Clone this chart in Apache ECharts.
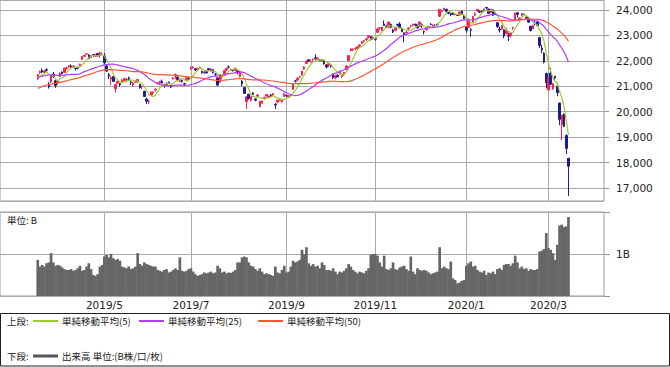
<!DOCTYPE html>
<html><head><meta charset="utf-8">
<script src="https://cdn.jsdelivr.net/npm/echarts@6/dist/echarts.min.js"></script>
<style>html,body{margin:0;padding:0;background:#fff}#c{width:670px;height:367px}</style>
</head><body><div id="c"></div>
<script>
// Trading days (year/month, days)
const months = [
 ['2019/3',[15,18,19,20,22,25,26,27,28,29]],
 ['2019/4',[1,2,3,4,5,8,9,10,11,12,15,16,17,18,19,22,23,24,25,26]],
 ['2019/5',[7,8,9,10,13,14,15,16,17,20,21,22,23,24,27,28,29,30,31]],
 ['2019/6',[3,4,5,6,7,10,11,12,13,14,17,18,19,20,21,24,25,26,27,28]],
 ['2019/7',[1,2,3,4,5,8,9,10,11,12,16,17,18,19,22,23,24,25,26,29,30,31]],
 ['2019/8',[1,2,5,6,7,8,9,13,14,15,16,19,20,21,22,23,26,27,28,29,30]],
 ['2019/9',[2,3,4,5,6,9,10,11,12,13,17,18,19,20,24,25,26,27,30]],
 ['2019/10',[1,2,3,4,7,8,9,10,11,15,16,17,18,21,23,24,25,28,29,30,31]],
 ['2019/11',[1,5,6,7,8,11,12,13,14,15,18,19,20,21,22,25,26,27,28,29]],
 ['2019/12',[2,3,4,5,6,9,10,11,12,13,16,17,18,19,20,23,24,25,26,27,30]],
 ['2020/1',[6,7,8,9,10,14,15,16,17,20,21,22,23,24,27,28,29,30,31]],
 ['2020/2',[3,4,5,6,7,10,12,13,14,17,18,19,20,21,25,26,27,28]],
 ['2020/3',[2,3,4,5,6,9,10,11,12,13]]
];
const tickMonths = ['2019/5','2019/7','2019/9','2019/11','2020/1','2020/3'];

const opens = [
 21300,21540,21620,21540,21650,21090,21170,21480,21220,21150,
 21390,21560,21550,21700,21760,21800,21770,21700,21740,21800,22050,22180,22270,22230,22130,22240,22190,22290,22210,22250,
 22200,21800,21450,21280,21380,20900,21120,21100,21180,21220,21230,21330,21170,21050,21160,21200,21070,20970,20800,
 20500,20400,20640,20740,20860,21100,21130,21190,21040,21070,21160,21040,21290,21400,21350,21200,21230,21100,21220,21320,
 21690,21720,21690,21680,21720,21590,21520,21570,21690,21620,21650,21470,21330,21160,21380,21470,21640,21760,21620,21640,21620,21600,
 21380,21200,20950,20400,20690,20450,20740,20500,20610,20200,20330,20520,20620,20580,20660,20650,20290,20380,20440,20390,20600,
 20640,20560,20650,20880,21210,21250,21380,21440,21680,21900,22040,21950,22040,22120,22050,22030,22000,22010,21840,
 21830,21800,21480,21330,21430,21480,21380,21470,21650,22000,22400,22430,22480,22500,22590,22690,22780,22830,22920,22950,22880,
 22870,23120,23290,23200,23450,23360,23320,23430,23200,23200,23430,23450,23270,23100,23100,23250,23370,23400,23440,23400,
 23360,23420,23150,23220,23330,23440,23390,23400,23440,23750,23930,24000,24030,23900,23860,23880,23820,23790,23800,23960,23780,
 23320,23320,23220,23530,23800,23960,23940,23960,23980,24100,24040,23900,24000,23860,23500,23250,23250,23220,23070,
 23000,22990,23300,23600,23890,23630,23800,23840,23720,23660,23360,23260,23480,23540,22920,22500,22300,21500,
 20850,21520,20900,21400,21000,20340,19480,19900,19060,18170
];
const closes = [
 21450,21584,21566,21609,21627,20977,21428,21378,21033,21206,
 21509,21505,21713,21724,21807,21762,21802,21688,21711,21871,22169,22221,22278,22090,22200,22218,22260,22200,22307,22259,
 21923,21602,21402,21345,21191,21067,21189,21062,21250,21302,21272,21283,21151,21117,21183,21261,20943,21003,20601,
 20410,20409,20776,20774,20885,21134,21205,21129,21032,21117,21124,20972,21333,21462,21259,21286,21194,21087,21338,21276,
 21730,21754,21638,21702,21746,21534,21565,21533,21643,21686,21535,21469,21046,21467,21417,21620,21710,21757,21658,21617,21709,21522,
 21540,21088,20720,20586,20517,20593,20685,20455,20655,20406,20419,20563,20678,20618,20628,20711,20261,20456,20480,20461,20704,
 20620,20625,20649,21086,21200,21318,21392,21598,21760,21988,22001,21960,22045,22079,22098,22020,22049,21879,21756,
 21886,21779,21342,21410,21375,21588,21456,21552,21799,22208,22473,22452,22493,22549,22625,22751,22800,22867,22974,22844,22927,
 22851,23252,23303,23330,23392,23332,23520,23320,23141,23303,23417,23293,23149,23038,23113,23293,23374,23438,23409,23294,
 23529,23380,23135,23300,23354,23430,23410,23392,23425,24024,23952,24066,23935,23865,23816,23821,23831,23783,23925,23838,23657,
 23205,23576,23205,23740,23851,24025,23917,23933,24041,24083,23865,24031,23795,23828,23344,23216,23380,22977,23205,
 22972,23085,23320,23874,23828,23686,23861,23828,23688,23523,23194,23400,23479,23387,22606,22427,21949,21143,
 21345,21083,21100,21330,20750,19699,19867,19416,18560,17858
];
const lows = [
 21250,21480,21520,21520,21580,20911,21130,21320,20940,21070,
 21360,21470,21520,21660,21720,21730,21740,21620,21670,21780,22040,22140,22250,22070,22120,22160,22150,22160,22120,22210,
 21880,21560,21280,21040,21170,20750,21110,20990,21130,21190,21160,21230,21050,21000,21130,21140,20900,20890,20580,
 20305,20290,20620,20650,20790,21090,21080,21110,20940,21030,21090,20930,21260,21280,21190,21160,21150,21040,21200,21240,
 21640,21700,21600,21660,21700,21500,21480,21490,21620,21590,21500,21400,21000,21140,21280,21440,21600,21700,21600,21580,21600,21470,
 21350,21000,20700,20110,20480,20400,20600,20410,20590,20180,20320,20470,20590,20540,20580,20610,20110,20330,20430,20360,20580,
 20580,20540,20600,20870,21150,21210,21320,21430,21650,21880,21960,21940,21990,22050,22040,21980,21960,21850,21700,
 21750,21740,21280,21280,21360,21460,21330,21410,21640,21990,22380,22380,22420,22480,22540,22670,22710,22790,22880,22800,22820,
 22790,23100,23230,23180,23380,23280,23310,23280,23090,23160,23370,23280,23130,22730,23030,23230,23320,23360,23370,23280,
 23330,23300,23040,23190,23290,23400,23350,23350,23380,23740,23920,23990,23920,23830,23760,23800,23790,23770,23790,23810,23650,
 23110,23300,22950,23520,23760,23940,23880,23880,23950,24030,23850,23890,23760,23800,23300,23120,23230,22890,23040,
 22780,22920,23220,23590,23710,23570,23750,23760,23630,23490,23150,23250,23400,23380,22500,22300,21900,20920,
 20850,21050,20860,21230,20610,19470,18890,19410,18340,16690
];
const highs = [
 21490,21620,21700,21610,21710,21160,21430,21560,21250,21210,
 21550,21580,21720,21770,21830,21860,21830,21730,21760,21890,22180,22230,22310,22260,22210,22260,22270,22300,22360,22330,
 22300,21870,21520,21400,21400,21080,21270,21130,21280,21330,21320,21380,21220,21170,21230,21290,21090,21020,20830,
 20550,20480,20800,20800,20920,21170,21210,21260,21090,21150,21190,21080,21360,21500,21400,21300,21260,21140,21340,21360,
 21780,21790,21700,21720,21770,21620,21590,21590,21720,21700,21660,21520,21360,21480,21450,21630,21720,21820,21700,21670,21720,21620,
 21600,21240,20980,20600,20700,20630,20760,20520,20700,20420,20450,20590,20700,20640,20700,20730,20340,20460,20500,20480,20720,
 20670,20660,20690,21100,21250,21350,21400,21600,21790,22020,22070,22050,22100,22260,22140,22070,22070,22050,21870,
 21920,21830,21500,21450,21480,21620,21500,21560,21820,22220,22480,22490,22530,22560,22650,22770,22820,22900,23010,22970,22950,
 22900,23290,23330,23340,23590,23410,23540,23470,23260,23320,23460,23520,23310,23120,23180,23310,23400,23460,23460,23420,
 23550,23470,23190,23340,23380,23480,23430,23440,23460,24040,24000,24090,24050,23920,23870,23900,23860,23810,23930,23970,23800,
 23370,23580,23300,23770,23900,24030,23990,23960,24050,24120,24040,24040,24020,23900,23520,23340,23400,23230,23300,
 23110,23090,23340,23900,23920,23700,23880,23850,23740,23680,23380,23420,23560,23580,22940,22630,22340,21540,
 21380,21720,21130,21400,21020,20350,19870,19930,19110,18180
];
// volume, billions of shares
const volumes = [
 0.86,0.70,0.74,0.70,0.78,0.80,1.02,0.80,0.72,0.74,
 0.72,0.68,0.64,0.62,0.62,0.64,0.60,0.62,0.66,0.72,0.60,0.62,0.70,0.78,0.64,0.50,0.48,0.52,0.70,0.74,
 0.94,0.98,0.92,1.00,0.90,0.86,0.88,0.84,0.70,0.68,0.66,0.70,0.64,0.66,0.70,1.02,0.76,0.72,0.80,
 0.76,0.74,0.72,0.70,0.70,0.62,0.60,0.58,0.62,0.64,0.56,0.58,0.62,0.66,0.62,0.92,0.60,0.58,0.60,0.64,
 0.66,0.58,0.52,0.48,0.50,0.52,0.56,0.54,0.56,0.58,0.54,0.56,0.72,0.66,0.56,0.58,0.54,0.56,0.55,0.58,0.62,0.80,
 0.80,0.92,0.94,0.92,0.80,0.72,0.70,0.64,0.60,0.66,0.58,0.52,0.54,0.52,0.50,0.48,0.70,0.56,0.54,0.62,0.72,
 0.56,0.58,0.70,0.84,0.80,0.82,0.86,1.10,1.00,1.16,0.78,0.72,0.76,0.70,0.72,0.66,0.80,0.74,0.62,
 0.62,0.60,0.66,0.58,0.52,0.58,0.56,0.60,0.66,0.76,0.70,0.62,0.58,0.54,0.58,0.56,0.54,0.60,0.66,0.98,1.00,
 1.00,0.96,0.80,0.70,0.96,0.64,0.62,0.66,0.80,0.64,0.62,0.68,0.70,0.72,0.64,0.60,0.94,0.58,0.52,0.66,
 0.62,0.60,0.62,0.60,0.56,0.52,0.54,0.56,0.58,1.16,0.66,0.70,0.66,0.64,0.82,0.42,0.38,0.30,0.32,0.36,0.38,
 0.72,0.78,0.82,0.70,0.72,0.62,0.58,0.56,0.60,0.50,0.56,0.54,0.58,0.52,0.64,0.66,0.62,0.74,0.76,
 0.76,0.72,0.78,0.96,0.80,0.66,0.70,0.64,0.66,0.60,0.64,0.62,0.62,0.64,1.06,1.08,1.12,1.50,
 1.14,1.10,1.02,0.86,1.22,1.68,1.70,1.64,1.66,1.88
];
// closes of the 49 sessions before the first shown day (feed the moving averages)
const prevCloses = [
 20015,
 19561,20038,20204,20427,20163,20360,20555,20443,20402,20666,20719,20622,20593,20575,20774,20650,20665,20557,20773,
 20788,20884,20844,20874,20751,20333,20864,21144,21140,20900,21281,21302,21431,21464,21426,21528,21449,21557,21385,
 21602,21823,21726,21597,21456,21025,21125,21504,21290,21287
];
const maPeriods = [5, 25, 50];
const maNames = ['単純移動平均(5)','単純移動平均(25)','単純移動平均(50)'];
const maColors = ['#9acd32','#b03cff','#ff5533'];
const yMin = 16489, yMax = 24393;

// ---- build
const PAD_L = 17, PAD_R = 16;
const cats = [], tickIdx = {}, tickLabel = {};
for (let i = 0; i < PAD_L; i++) cats.push('L' + i);
months.forEach(([m, days]) => days.forEach((d, j) => {
  const k = m + '/' + d;
  if (j === 0 && tickMonths.indexOf(m) >= 0) { tickIdx[cats.length] = true; tickLabel[k] = m; }
  cats.push(k);
}));
for (let i = 0; i < PAD_R; i++) cats.push('R' + i);

const candle = [], vol = [], mas = maPeriods.map(() => []);
const allC = prevCloses.concat(closes);
for (let i = 0; i < PAD_L; i++) { candle.push(['-','-','-','-']); vol.push('-'); mas.forEach(a => a.push('-')); }
closes.forEach((c, i) => {
  candle.push([opens[i], c, lows[i], highs[i]]);
  vol.push(volumes[i]);
  const k = prevCloses.length + i;
  maPeriods.forEach((n, p) => {
    let s = 0; for (let j = k - n + 1; j <= k; j++) s += allC[j];
    mas[p].push(+(s / n).toFixed(1));
  });
});
for (let i = 0; i < PAD_R; i++) { candle.push(['-','-','-','-']); vol.push('-'); mas.forEach(a => a.push('-')); }

const showTick = (idx) => !!tickIdx[idx];
const GRID = '#aaaaaa', FRAME = '#999999';
const NUMF = 'DejaVu Sans', CJK = '"Noto Sans CJK JP", sans-serif';

const chart = echarts.init(document.getElementById('c'), null, {renderer: 'svg'});
const option = {
  animation: false,
  backgroundColor: '#ffffff',
  grid: [
    {left: 0, top: 0, width: 604, height: 201, show: true, borderColor: FRAME, borderWidth: 1, backgroundColor: '#fff', containLabel: false, outerBoundsMode: 'none'},
    {left: 0, top: 212, width: 604, height: 84, show: true, borderColor: FRAME, borderWidth: 1, backgroundColor: '#fff', containLabel: false, outerBoundsMode: 'none'}
  ],
  xAxis: [
    {type: 'category', gridIndex: 0, data: cats, boundaryGap: false,
     axisLine: {show: false}, axisTick: {show: false}, axisLabel: {show: false},
     splitLine: {show: true, interval: showTick, lineStyle: {color: GRID, width: 1}}},
    {type: 'category', gridIndex: 1, data: cats, boundaryGap: false,
     axisLine: {show: false}, axisTick: {show: false},
     axisLabel: {show: true, interval: showTick, formatter: v => tickLabel[v] || '', margin: 3,
       fontFamily: NUMF, fontSize: 10.5, color: '#222'},
     splitLine: {show: true, interval: showTick, lineStyle: {color: GRID, width: 1}}}
  ],
  yAxis: [
    {type: 'value', gridIndex: 0, position: 'right', min: yMin, max: yMax, splitNumber: 8, scale: true,
     axisLine: {show: false}, axisTick: {show: true, length: 5, lineStyle: {color: FRAME}},
     axisLabel: {show: true, showMinLabel: false, showMaxLabel: false, margin: 12,
       formatter: v => String(Math.round(v)).replace(/\B(?=(\d{3})+(?!\d))/g, ','),
       fontFamily: NUMF, fontSize: 10.5, color: '#222'},
     splitLine: {show: true, lineStyle: {color: GRID, width: 1}}},
    {type: 'value', gridIndex: 1, position: 'right', min: 0, max: 2, interval: 1,
     axisLine: {show: false}, axisTick: {show: true, length: 6, lineStyle: {color: FRAME}},
     axisLabel: {show: true, margin: 12, formatter: v => (v === 1 ? '1B' : ''),
       fontFamily: NUMF, fontSize: 10.5, color: '#222'},
     splitLine: {show: true, lineStyle: {color: GRID, width: 1}}}
  ],
  series: [
    {type: 'candlestick', xAxisIndex: 0, yAxisIndex: 0, data: candle, barWidth: 2,
     itemStyle: {color: '#ff1f4f', color0: '#1c1c8f', borderColor: '#ff1f4f', borderColor0: '#1c1c8f', borderWidth: 1}},
    ...maPeriods.map((n, p) => ({type: 'line', name: maNames[p], xAxisIndex: 0, yAxisIndex: 0, data: mas[p],
      showSymbol: false, symbol: 'none', smooth: false, lineStyle: {color: maColors[p], width: 1.2}, z: 3})),
    {type: 'bar', xAxisIndex: 1, yAxisIndex: 1, data: vol, barWidth: 2.7,
     itemStyle: {color: '#666666'}}
  ],
  graphic: [
    {type: 'text', left: 7, top: 215, style: {text: '単位: B', font: '9.5px ' + CJK, fill: '#222'}},
    {type: 'rect', shape: {x: 0.5, y: 313.5, width: 669, height: 52.5}, style: {fill: 'none', stroke: '#222', lineWidth: 1}},
    {type: 'text', x: 7, y: 321, style: {text: '上段:', font: '9.5px ' + CJK, fill: '#222', verticalAlign: 'middle'}},
    {type: 'line', shape: {x1: 33, y1: 321, x2: 58, y2: 321}, style: {stroke: maColors[0], lineWidth: 2}},
    {type: 'text', x: 62, y: 321, style: {text: maNames[0], font: '9.5px ' + CJK, fill: '#222', verticalAlign: 'middle'}},
    {type: 'line', shape: {x1: 139, y1: 321, x2: 164, y2: 321}, style: {stroke: maColors[1], lineWidth: 2}},
    {type: 'text', x: 168, y: 321, style: {text: maNames[1], font: '9.5px ' + CJK, fill: '#222', verticalAlign: 'middle'}},
    {type: 'line', shape: {x1: 258, y1: 321, x2: 283, y2: 321}, style: {stroke: maColors[2], lineWidth: 2}},
    {type: 'text', x: 287, y: 321, style: {text: maNames[2], font: '9.5px ' + CJK, fill: '#222', verticalAlign: 'middle'}},
    {type: 'text', x: 7, y: 356, style: {text: '下段:', font: '9.5px ' + CJK, fill: '#222', verticalAlign: 'middle'}},
    {type: 'line', shape: {x1: 33, y1: 356, x2: 58, y2: 356}, style: {stroke: '#555', lineWidth: 3}},
    {type: 'text', x: 62, y: 356, style: {text: '出来高 単位:(B株/口/枚)', font: '9.5px ' + CJK, fill: '#222', verticalAlign: 'middle'}}
  ]
};
chart.setOption(option);
</script></body></html>
